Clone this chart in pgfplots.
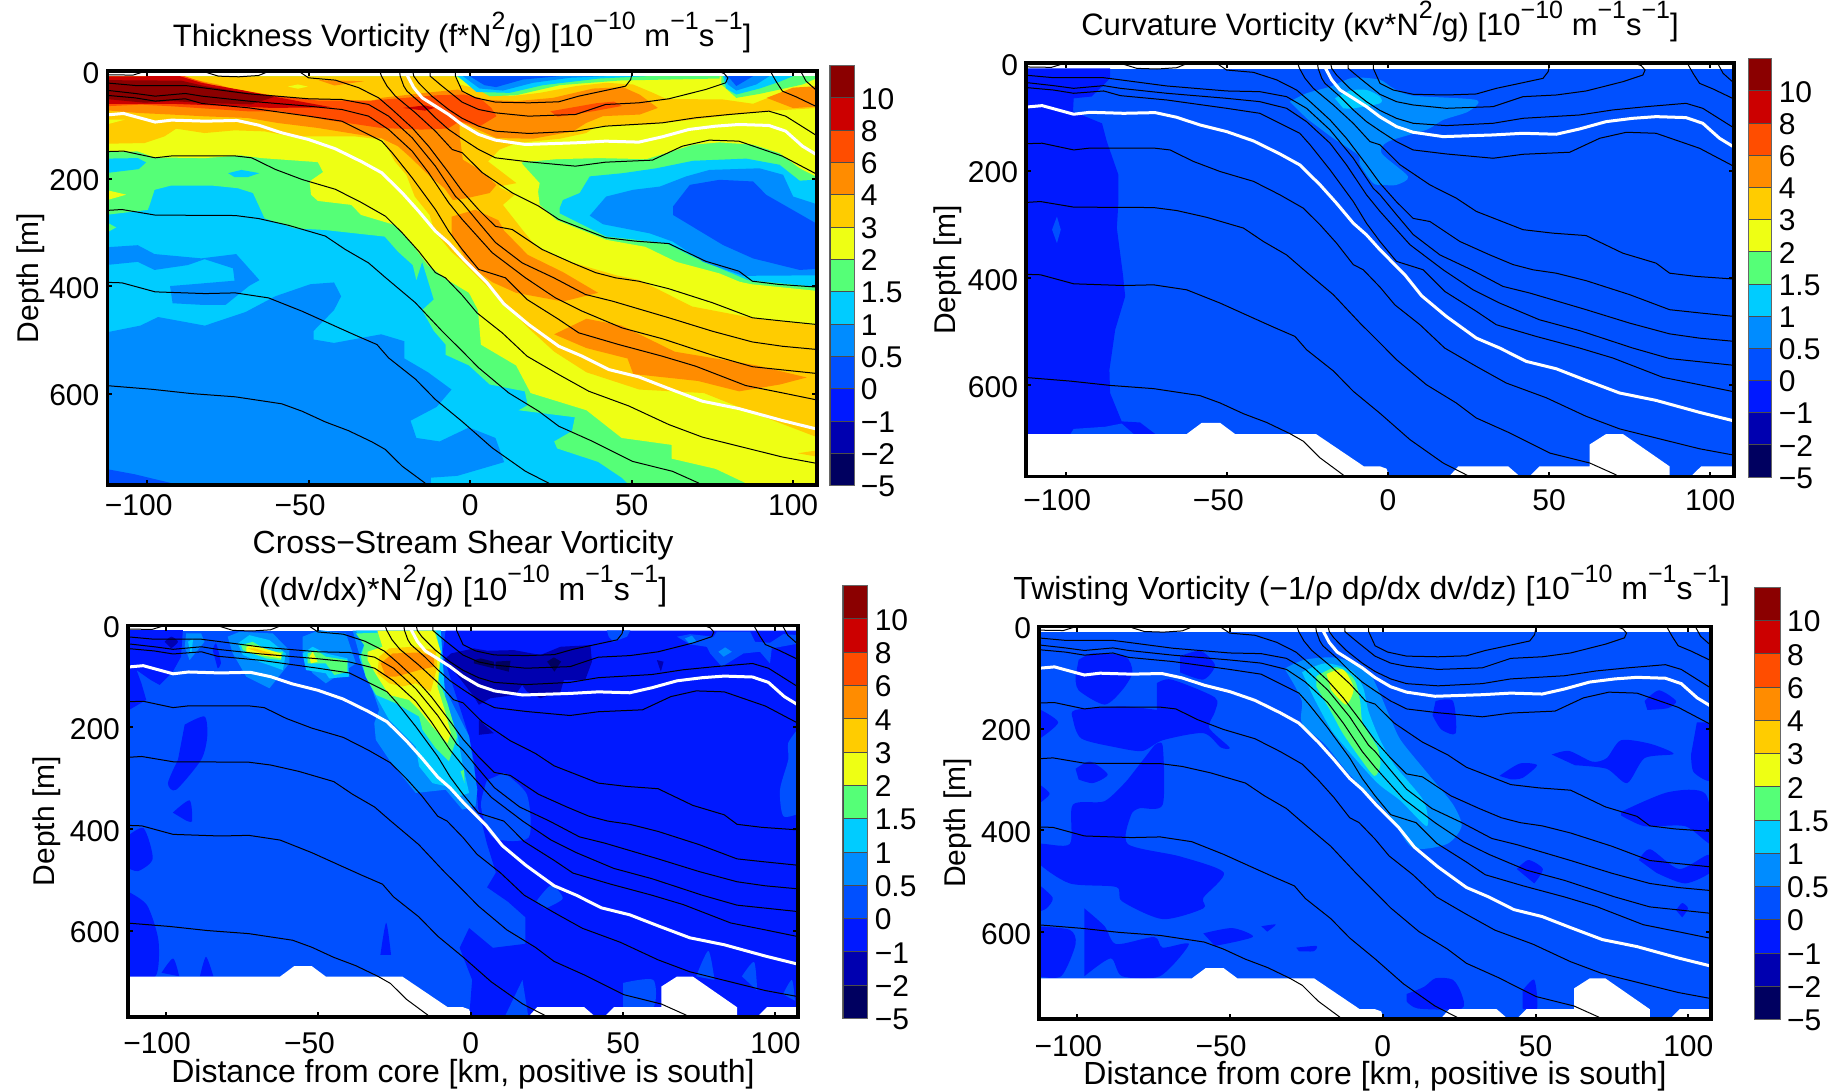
\documentclass[border=0pt]{standalone}
\usepackage{fontspec}
\setmainfont{Liberation Sans}
\usepackage{pgfplots}
\pgfplotsset{compat=1.18}
\definecolor{c10}{HTML}{8B0000}
\definecolor{c8}{HTML}{CC0000}
\definecolor{c6}{HTML}{FF4D00}
\definecolor{c4}{HTML}{FF8C00}
\definecolor{c3}{HTML}{FFCC00}
\definecolor{c2}{HTML}{EEFF14}
\definecolor{c15}{HTML}{55FF77}
\definecolor{c1}{HTML}{00CCFF}
\definecolor{c05}{HTML}{008CFF}
\definecolor{c0}{HTML}{0050FF}
\definecolor{cm1}{HTML}{0019FF}
\definecolor{cmb}{HTML}{0000B0}
\definecolor{cmc}{HTML}{000060}
\newcommand\fs{\fontsize{15}{16}\selectfont}
\newcommand\fst{\fontsize{15.5}{17}\selectfont}
\newcommand\fsl{\fontsize{16}{17}\selectfont}
\newcommand\up[1]{\raisebox{.55em}{\fontsize{12.5}{13}\selectfont #1}}
\newcommand\unit{[10\up{−10} m\up{−1}s\up{−1}]}
\newcommand\pfm[2]{\addplot[draw=none,fill=#1] coordinates {#2} --cycle;}
\newcommand\pf[2]{\addplot[draw=none,fill=#1] coordinates {#2} --cycle;}
\newcommand\pfs[2]{\addplot[draw=none,fill=#1,smooth,tension=.45] coordinates {#2} --cycle;}
\newcommand\kl[1]{\addplot[line width=.5pt,color=black] coordinates {#1};}
\newcommand\wl[1]{\addplot[line width=1.5pt,color=white] coordinates {#1};}
\newcommand\contours{%
\kl{(-111.9,7)(-104.5,7.7)(-100.9,1)}
\kl{(-82.1,2)(-78,9.6)(-71.7,10.8)(-65.6,8.4)(-63,2.1)}
\kl{(93,1)(94.8,20)(96.7,37.5)(100.9,48)(107.5,67)}
\kl{(102.4,1)(104,18.8)(107.5,37.5)}
\kl{(-4.6,1)(-4.6,9.6)(-2.5,37.5)(1.6,49.9)(7.8,57.9)(18.1,59.2)(27.4,57.3)(33.6,46.8)(40.9,37.5)(48.1,28.2)(49.7,15.8)(50.2,1)}
\kl{(-12.4,1)(-12.4,9.6)(-8.7,28.2)(-2.5,58)(2.6,71.6)(7.8,77.8)(18.1,84)(32.6,80.9)(41.9,62.3)(52.2,59.2)(61.5,51.7)(72.9,34.4)(79.1,22)(79.8,12.7)(78.6,4.6)(77,1)}
\kl{(-17.8,1)(-17.5,9.6)(-16,22)(-11.9,46.8)(-6.7,71.6)(-2.5,88)(2.6,102.6)(7.8,111.9)(18.1,116.2)(32.6,111.9)(41.9,102.6)(59.5,96.4)(69.8,87)(80.2,80.9)(92.5,74.7)(97.7,84)(107.5,121)}
\kl{(-21.9,1)(-21.7,9.6)(-20.6,28)(-19.6,37.5)(-14.9,62.3)(-10.8,87)(-6.7,108.8)(-2.5,126)(2.6,146)(7.8,161.5)(18.1,169)(32.6,177)(41.9,169.6)(56.4,165.8)(65.7,139.8)(74,128.6)(83.2,130.5)(96.7,158.4)(107.5,192.5)}
\kl{(-28,1)(-27.5,9.6)(-25.8,28)(-23.2,46.8)(-17,77.8)(-10.8,112)(-5.6,146)(-2.5,152)(3.7,189)(13,226.6)(21.2,251.4)(27.4,276)(41.9,310)(51.2,316.5)(61.5,321)(72.9,353.8)(83.2,372.3)(87.4,391)(95.6,397)(107.5,402)}
\kl{(-53,1)(-50.1,12.7)(-41.8,17)(-34.6,31)(-28.4,49.9)(-24.2,71.6)(-18,105.7)(-12.9,140)(-6.7,189)(-2.5,223.6)(2.6,258)(7.8,289)(13,294.8)(22.3,332)(31.6,357)(38.8,375)(45,384.7)(52.2,391)(61.5,405)(75,431)(87.4,459)(96.7,465)(107.5,471.6)}
\kl{(-113,22)(-103.8,27)(-88.3,27)(-83.1,31)(-68.7,42.4)(-50.1,51.7)(-39.8,53)(-31.5,62.3)(-25.3,84)(-18,124.3)(-10.8,177)(-4.6,233)(-2.5,245)(2.6,282)(7.8,319)(16.1,357)(25.9,384.7)(35.7,415.7)(44,428)(61.5,459)(75,484)(87.4,504)(96.7,512)(107.5,518)}
\kl{(-113,35.6)(-103.8,41.8)(-97.6,46.8)(-88.3,41.8)(-83.1,46.8)(-68.7,56)(-50.1,65.4)(-39.8,71.6)(-31.5,84)(-25.3,108.8)(-18,149)(-12.9,189.4)(-6.7,245)(-2.5,276)(6.8,338)(17.1,384.7)(26.4,422)(34.7,446.8)(47,477.8)(59.5,498)(76,530.5)(87.4,550)(107.5,562.7)}
\kl{(-113,45)(-103.8,50)(-97.6,56)(-88.3,51.7)(-83.1,60.4)(-68.7,68.5)(-50.1,84)(-39.8,93.3)(-27.4,130.5)(-24.2,152)(-18,198.7)(-10.8,257.6)(-6.7,298)(-2.5,332)(2.6,369)(10.9,384.7)(17.6,425)(27.4,462)(33.6,487)(46,508.8)(59.5,530.5)(69.8,549)(85.3,585)(96.7,598.7)(107.5,612)}
\kl{(-113,150)(-107.4,149)(-97.6,161.5)(-92.5,158)(-72.8,158)(-67.7,161.5)(-60.4,183)(-52.1,201.8)(-41.8,220)(-33.6,245)(-26.3,270)(-21.1,301)(-16,335)(-10.8,375)(-7.7,384.7)(-2.5,417)(2.1,450)(9.9,487)(17.6,530.5)(27.4,564.6)(36.7,595.6)(49.1,623)(61.5,657.6)(71.9,681)(85.3,701)(96.7,718)(107.5,730)}
\kl{(-113,259.5)(-107.9,257.6)(-97.6,268)(-72.8,268.8)(-65.6,274.4)(-56.3,287)(-44.9,307)(-38.7,332)(-31.5,357)(-26.3,384)(-17,431)(-8.7,484)(-2.5,521)(2.6,552)(11.9,598.7)(21.2,632.8)(27.4,660.7)(37.8,688.6)(50.2,726)(62.6,744.5)(70.6,766)(72,772)}
\kl{(-113,393)(-107.9,394)(-97.6,410.8)(-82.1,414)(-72.8,412.7)(-62.5,422)(-52.1,446.8)(-41.8,474.7)(-35.6,491.4)(-28.9,508.8)(-25.3,533.6)(-17,573)(-10.8,611)(-2.5,652)(6.8,701)(17.1,744.5)(24.1,766)(26,772)}
\kl{(-113,585)(-98.6,592)(-86.3,600)(-72.8,606)(-58.4,619)(-52.1,632.8)(-44.9,652.7)(-37.7,669)(-30.4,690)(-26.3,704)(-21.1,735)(-14.1,766)(-13,772)}
\wl{(-113,82)(-107.4,79)(-97.6,95)(-92.5,91.4)(-82.1,93.3)(-72.3,92)(-65.6,100.7)(-58.4,115)(-50.1,127.4)(-41.8,144.7)(-33.6,168.9)(-27.4,189.4)(-21.1,226.6)(-16,260.7)(-10.8,297.9)(-6.7,319.6)(-2.5,347.5)(1.6,372.3)(5.2,394)(10.4,433)(18.1,471.6)(27.4,511.9)(34.7,530.5)(42.9,555.3)(52.2,569)(61.5,590.7)(71.9,614.2)(83.2,627.9)(96.7,650.2)(108,667)}
\wl{(-19.8,5)(-17.5,31)(-14.9,49.9)(-10.8,65.3)(-6.7,80.9)(-2.5,100)(2.6,118)(7.8,128.6)(17.1,136.7)(32.6,133.6)(41.9,130.5)(52.2,132.3)(59.5,122.4)(67.7,108.8)(76,102.6)(83.2,99.5)(92.5,101.3)(97.7,111.9)(102.9,139.8)(108,158.4)}
}
\newcommand\mask{%
\pfm{white}{(-113,690.5)(-62.5,690.5)(-57.9,670)(-52.1,670)(-47.5,690.5)(-22.4,690.5)(-7.5,750.8)(-2.5,750.8)(-0.5,755)(0.5,772)(-113,772)}
\pfm{white}{(18.6,772)(21.8,750.8)(37.3,750.8)(41.4,772)}
\pfm{white}{(43.5,772)(47,750.8)(62.6,750.8)(62.6,710)(67.7,690.5)(72.9,690.5)(87.4,750.8)(87.4,772)}
\pfm{white}{(93.6,772)(97.2,750.8)(108,750.8)(108,772)}
}
\newcommand\cbar{%
\foreach \i/\c in {0/cmc,1/cmb,2/cm1,3/c0,4/c05,5/c1,6/c15,7/c2,8/c3,9/c4,10/c6,11/c8,12/c10}{%
\edef\tmp{\noexpand\addplot[draw=black!70,line width=.3pt,fill=\c] coordinates {(0,\i)(1,\i)(1,\the\numexpr\i+1\relax)(0,\the\numexpr\i+1\relax)} --cycle;}\tmp}%
}
\pgfplotsset{
 panel/.style={scale only axis,anchor=south west,xmin=-112.4,xmax=107.4,ymin=0,ymax=770,y dir=reverse,no markers,
  axis on top,xtick={-100,-50,0,50,100},xticklabels={\llap{−}100,\llap{−}50,0,50,100},ytick={0,200,400,600},yticklabels={0,200,400,600},
  tick align=inside,major tick length=2.5pt,tick style={black,line width=1pt},axis line style={black,line width=1.8pt},
  tick label style={font=\fs},label style={font=\fs},title style={font=\fst,yshift=-6pt},
  yticklabel style={xshift=-.5pt,yshift=-1pt},ylabel={Depth [m]}},
 cb/.style={scale only axis,anchor=south west,xmin=0,xmax=1,ymin=0,ymax=13,xtick=\empty,ytick={0,...,12},
  yticklabels={−5,−2,−1,0,0.5,1,1.5,2,3,4,6,8,10},yticklabel pos=right,major tick length=0pt,
  tick label style={font=\fs,yshift=-.5pt},axis line style={black!60,line width=.4pt},axis on top,no markers}
}
\begin{document}
\begin{tikzpicture}
\path[use as bounding box] (0,0) rectangle (920.5pt,545.5pt);
% ---------- panel 1
\begin{axis}[panel,at={(53.7pt,303pt)},width=354.8pt,height=207pt,xticklabel style={yshift=-1.3pt},
 ylabel style={at={(axis description cs:-0.108,0.5)},anchor=center},
 title={Thickness Vorticity (f*N\up{2}/g) \unit},title style={at={(axis description cs:0.5,1.059)},anchor=base}]
\pf{c1}{(-113,10)(108,10)(108,772)(-113,772)}
\pf{c05}{(-113,486.5)(-102.2,473.6)(-96.7,457.6)(-82.2,473.6)(-69.5,448)(-60.4,419)(-49.5,396.5)(-42.2,393.3)(-40,419)(-42.2,444.7)(-48.5,483.3)(-48.5,499.4)(-42.2,505.8)(-27.6,489.7)(-20.4,502.6)(-20.4,534.7)(-13.1,560.4)(-5.8,592.5)(-10.4,624.7)(-18.5,650.4)(-16.7,682.5)(-9.5,689)(-0.4,663)(7.8,682.5)(10.5,727.5)(-4,753)(-12.2,756.4)(-12.2,772)(-113,772)}
\pf{c05}{(-113,328)(-103,324)(-97.8,340.5)(-83.3,348.5)(-72.5,340.5)(-65.3,389)(-68.5,399.7)(-75.8,435)(-83,435)(-92.2,432)(-93,400)(-85.8,396.5)(-73,390)(-73.5,367)(-82.3,350)(-87.5,361)(-97.8,370)(-103,355)(-113,361)}
\pf{c0}{(-113,740)(-104,750)(-89.5,771)(-113,772)}
% green
\pf{c15}{(-113,267.7)(-99.9,258.4)(-99.3,249)(-97.8,221)(-92.6,213)(-80.2,213)(-72,218)(-67.3,227)(-63.7,274)(-54.4,292.5)(-45.1,295.7)(-26.5,308)(-22.4,336)(-17.8,361)(-16.7,389)(-14.9,354.8)(-11.3,425)(-14.9,444.7)(-11.3,483.3)(-7.6,509)(-7.6,528)(-0.4,547.6)(6,583)(16.9,595.8)(17.8,621.5)(15,631)(32.4,644)(31.5,669.7)(26,689)(26.9,702)(39.6,727)(46.9,756.4)(49.6,772)(108,772)(108,10)(-113,10)}
\pf{c1}{(-113,163)(-103,162)(-100.4,170)(-102.7,182.5)(-113,190)}
\pf{c1}{(-75,190)(-70.9,184)(-65.3,190)(-69,197.5)(-73,197.5)}
\pf{c15}{(-113,280)(-109.7,291)(-113,302)}
% yellow
\pf{c2}{(-113,150.8)(-103,149.6)(-97.8,160.8)(-82.3,162)(-70.9,157)(-64.7,162)(-47.2,169.5)(-45.6,188)(-49.8,205.5)(-49.3,230.4)(-47.2,241.6)(-36.9,249)(-33.8,267.7)(-23.4,286.4)(-17.8,323.7)(-13.1,361)(-6.9,389)(-0.4,412.6)(2.4,444.7)(3.3,509)(14.2,547.6)(18.7,599)(36,631)(46.9,682.5)(62.4,695.4)(62.4,721)(76,740)(86.9,771)(108,772)(108,409.4)(86.9,396.5)(83.4,392)(77.2,376.5)(63.8,355)(54.2,327)(42.1,314)(26.6,277)(21.5,249)(21,224)(21.5,208.6)(16.3,174.4)(15.8,170)(26.6,164)(40,162)(54.5,164)(60.7,152.7)(69,137)(77.2,132.8)(87.6,137)(95.8,152.7)(102,180.7)(108,199)(108,10)(-113,10)}
\pf{c2}{(-113,221)(-106.6,230)(-113,241)}
% right blob
\pf{c1}{(27.7,255)(28.7,240)(33.9,227)(37,196)(47.3,190)(57.6,181)(69,167)(85.5,163)(95.8,174.4)(102,204)(108,202)(108,402)(86,389)(76.2,364)(69,345.5)(60.7,320.6)(51.4,314)(42.1,308)(27.7,264.6)}
\pf{c05}{(37,269)(42.1,233.5)(50.4,221)(58.7,215)(66.9,196)(74.1,184)(89.6,181)(96.9,193)(100,233.5)(108,249)(108,380)(84.5,381)(72.1,355)(62.8,317.5)(55.6,302)(41.1,285)}
\pf{c0}{(62.8,252)(68,211.8)(77.2,202.4)(87.6,205.5)(91.7,230.4)(108,286.4)(108,368)(102,370)(87.6,348.6)(78.3,323.7)(62.8,267.7)}
% gold
\pf{c3}{(-113,10)(-113,135.3)(-100.9,134)(-94.7,121.6)(-91.1,107.3)(-82.3,115.4)(-73,110.4)(-63.7,112.3)(-55.5,121.6)(-47.2,121.6)(-35.8,121.6)(-27,127.8)(-23.4,168)(-19.8,193)(-17.2,233.5)(-12.6,267.7)(-11,298.8)(-5.9,336)(-2.3,355)(5.1,399.7)(10.5,432)(17.8,477)(26,522)(36,560.4)(52.4,592.5)(72.4,599)(86.9,634)(108,682.5)(108,473.6)(88.7,460.8)(68.7,438)(52.5,389)(45.2,380)(30.8,355)(20.4,327)(15.8,292.6)(10.1,249)(13.7,230.4)(8.6,215)(14.3,208.6)(5.5,168.2)(9.1,146)(14.3,134)(27.7,126)(35.9,115.4)(39,103)(54.5,99.8)(69,90.5)(81.4,81)(91.7,75)(98.4,72)(108,68.7)(108,40)(100,31.4)(94.8,43.8)(87.6,61)(78.3,53)(60.7,52)(56.6,40.7)(50.4,25)(42.1,22)(32.8,28)(21.5,40.7)(12.2,47)(5,37.6)(-3.3,25)(-5,10)}
\pf{c2}{(-56.5,29)(-53.4,25)(-50.3,29)(-53.4,33)}
\pf{c2}{(-113,90.5)(-107,90.5)(-113,100)}
\pf{c3}{(101.5,711)(108,705)(108,718)}
% orange
\pf{c4}{(-113,10)(-89,12)(-78.2,25)(-70,40.7)(-55.5,50)(-41,53)(-30.7,56)(-27.6,50)(-14,40.7)(-3.8,34.5)(2.9,53)(14.3,56)(25.6,50)(38,32.7)(47.3,30)(52.5,44)(58.1,68.7)(52.5,81)(41.1,84)(35.9,96.7)(31.8,112.3)(19.4,126)(8.1,124.7)(-3.3,93.6)(-3.3,118.5)(-2.3,165)(3,184)(8.1,212)(6,227)(-1.2,236.7)(-5.4,240)(-8,218)(-13,193)(-18.3,162)(-22.4,140)(-27.6,125)(-47.2,106)(-59.6,96.7)(-68.9,87.4)(-82.3,84.3)(-92.6,81)(-103,78)(-113,73)}
\pf{c4}{(-47,17)(-33,19)(-42,27)}
\pf{c4}{(91.8,50)(100,31)(108,28)(108,66)(100,69)}
\pf{c4}{(-5.8,271)(1.5,258)(8.7,277.6)(10.5,297)(17.8,342)(28.7,374)(39.6,412.6)(28.7,428.7)(14.2,412.6)(6.9,393)(-0.4,361)(-5.8,303)}
\pf{c4}{(26,489.7)(36,460.8)(46.9,473.6)(63.3,522)(88.7,547.6)(104.2,570)(96,583)(83.3,595.8)(70.5,576.5)(50.5,563.6)(48.7,534.7)(36,515.4)}
% reds
\pf{c6}{(-113,10)(-88.5,9.6)(-79.2,28)(-61.6,45)(-47.2,55)(-30.7,55)(-10,45)(-1.8,44)(2.9,50)(6.5,68.7)(8.1,84)(2.9,103)(-3.3,93.6)(-6.9,107)(-15.2,109)(-27.6,106)(-45,90.5)(-58.6,75)(-68.9,75)(-92.6,65.6)(-102,62.5)(-113,65.6)}
\pf{c6}{(24.8,75)(39,60)(44.5,57)(47,65)(38,75)(27,85)}
\pf{c8}{(-113,10)(-90,9.6)(-83.3,22)(-70,36.4)(-59.6,49)(-43,67.5)(-61.6,68.7)(-72,65.6)(-92.6,61)(-111.7,61)(-113,61)}
\pf{c8}{(-20.8,68.7)(-14,64)(-11,68.7)(-14,73.7)}
\pf{c10}{(-113,17)(-89.5,18)(-82.3,28)(-72,38)(-60.6,48)(-67.8,62)(-80.2,60)(-92.6,56)(-100.9,59)(-113,52)}
% top strip
\pf{c15}{(-4.3,9.6)(-1.2,22)(6,47)(14.3,45)(27.7,26.4)(46.3,17.7)(77.2,14)(77.2,9.6)}
\pf{c1}{(-3.8,9.6)(1.9,39)(12.2,40.7)(22.5,26.4)(40,14)(54.5,9.6)}
\pf{c05}{(-2.3,9.6)(2.9,32.6)(10.1,36.4)(19.4,22)(30.8,12.7)(42.1,9.6)}
\pf{c0}{(-0.2,9.6)(4.4,26.4)(8,30)(16.3,15.9)(27.7,9.6)}
\pf{c15}{(77.8,9.6)(77.8,25)(82.4,50)(89.6,42.6)(95.8,34.5)(103,25)(108,11.5)(108,9.6)}
\pf{c1}{(78.3,9.6)(79.3,32.6)(82.4,43.8)(89.6,32.6)(95.8,20)(100,9.6)}
\pf{c05}{(78.8,9.6)(79.8,25)(82.4,36.4)(88.6,25)(92.7,9.6)}
\pf{c0}{(79.8,9.6)(82.4,28)(87.6,9.6)}
\contours
\end{axis}
\begin{axis}[cb,at={(414.9pt,302.75pt)},width=12.05pt,height=210.05pt]\cbar\end{axis}
% ---------- panel 2
\begin{axis}[panel,at={(513pt,307.15pt)},width=354pt,height=206.75pt,xticklabel style={yshift=-3.1pt},
 ylabel style={at={(axis description cs:-0.110,0.5)},anchor=center},
 title={Curvature Vorticity (κv*N\up{2}/g) \unit},title style={at={(axis description cs:0.5,1.066)},anchor=base}]
\pf{c0}{(-113,10)(108,10)(108,772)(-113,772)}
\pf{cm1}{(-113,9.6)(-86.3,9.6)(-86.3,28)(-92,62)(-97.6,65.4)(-97.8,90)(-88.8,112)(-87.3,146)(-83.7,208)(-83.7,257.6)(-84.2,307)(-82.3,394)(-81.6,434)(-84.7,496)(-86.5,571)(-86.3,614)(-82.7,667)(-77,669)(-72.3,690.5)(-113,690.5)}
\pf{c0}{(-98.6,690.5)(-97.6,681)(-87.8,677)(-82.7,671)(-79,690.5)}
\pf{c0}{(-102.8,285.6)(-104.3,310)(-102.8,335)(-101.6,310)}
\pfs{c05}{(-30.5,71.6)(-25.3,56)(-18,43.7)(-10.8,27)(-2.5,31)(1.6,46.8)(7.8,60.4)(27.4,68.5)(24.9,90)(17.1,105.7)(11.9,124)(0,146)(-2,167.7)(6.2,211)(2.6,226.6)(-1.5,226.6)(-4.6,223.5)(-8.7,189)(-9.3,170.8)(-17,139.8)(-25.3,102.6)}
\pfs{c1}{(-16.5,65.4)(-11.8,51)(-6.7,49.8)(-2.5,62.3)(-2.5,74.7)(-10.8,84)(-13.9,84)}
\mask
\contours
\end{axis}
\begin{axis}[cb,at={(874.1pt,307pt)},width=11.75pt,height=209.25pt]\cbar\end{axis}
% ---------- panel 3
\begin{axis}[panel,at={(64pt,37pt)},width=335pt,height=195.75pt,xticklabel style={yshift=-4.3pt},
 ylabel style={at={(axis description cs:-0.122,0.5)},anchor=center},
 xlabel={\fsl Distance from core [km, positive is south]},xlabel style={at={(axis description cs:0.5,-0.168)},anchor=base},
 title={\fsl ((dv/dx)*N\up{2}/g) \unit},title style={at={(axis description cs:0.5,1.065)},anchor=base},
 extra description/.code={\node[font=\fsl,anchor=base] at (0.5,1.185) {Cross−Stream Shear Vorticity};}]
\pf{c0}{(-113,10)(108,10)(108,772)(-113,772)}
% right darker region
\pf{cm1}{(-8.2,10)(-9.2,55)(-0.5,218)(1.2,270)(2.5,360)(5.4,430)(8.3,486)(5.4,515)(12.2,543)(18,574)(18,626)(7.3,634)(-0.5,595)(-3.6,634)(0.5,697)(-0.5,772)(108,772)(108,10)}
\pfs{c0}{(11,290)(18.5,333)(19,417)(7.3,417)(3.4,355)(5.4,304)}
\pfs{c0}{(21.5,543)(26.4,511)(30.2,537)(24.4,557)}
\pf{c0}{(11,772)(17,697)(19,772)}
\pfs{c0}{(50,703)(59.9,697)(59.9,751)(50,751)}
\pfs{c0}{(74,690)(78,640)(80,697)}
\pfs{c0}{(89,690)(93,662)(94,718)}
\pfs{c0}{(102.5,725)(105.4,697)(106.4,738)}
\pfs{c0}{(108,198.7)(104.2,231)(104.2,264)(101.5,323)(102.6,375)(108,369)}
\pf{c0}{(67.7,22)(72,17)(79.7,22)(80.8,12)(91.7,12)(93.3,32)(98.2,34)(102.6,17)(108,19)(108,35)(98.8,45)(98.2,74.5)(94.9,51.6)(89.5,55)(82.4,81)(78.6,55)(77.5,42)(72,37)}
\pf{c05}{(70.3,25.5)(72.6,20)(74.2,32)(72,37)}
\pf{c05}{(81.3,51.6)(83.5,43)(85.7,51.6)(83,61.4)}
\pf{c0}{(44.7,9.6)(52.4,9.6)(51.3,22)(46.9,32)(45.3,22)}
% left patches
\pf{cm1}{(-113,9)(-94.4,9)(-95,61.4)(-97.7,90.8)(-102,117)(-105,107)(-109.6,87.6)(-108,113.7)(-106.4,146.4)(-113,169.3)}
\pfs{cm1}{(-84.6,48.4)(-83.5,35)(-81.9,74.5)(-83,84.3)}
\pfs{cm1}{(-93.8,195)(-87.3,179)(-86.4,218)(-88.4,264)(-96.6,323)(-99.3,310)(-96,264)}
\pfs{cm1}{(-97.7,368)(-92.2,344)(-91.4,385)(-93.8,382)}
\pfs{cm1}{(-113,416.4)(-107.3,398.7)(-104.3,458.5)(-109.1,483)(-113,475)}
\pfs{cm1}{(-113,521.6)(-106.2,549.7)(-102.4,619.9)(-103.4,690)(-113,690)}
\pfs{cm1}{(-101.4,683)(-97.6,655)(-95.6,690)}
\pfs{cm1}{(-88.8,690)(-86.8,651.6)(-84.4,690)}
\pfs{cm1}{(-29.6,648)(-27.7,584.6)(-26.1,648)}
\pfs{cmb}{(-100.4,32)(-98.2,22)(-96,32)(-98.2,45)}
% blobs
\pf{c05}{(-93.3,15.7)(-88.4,15.7)(-87.3,32)(-92.2,68)(-93.8,41.8)}
\pf{c1}{(-92.7,32)(-91,25.5)(-91.7,58)}
\pf{c05}{(-79.7,22)(-75.8,12.4)(-64.9,15.7)(-59.5,48.4)(-59.5,74.5)(-66,123.5)(-73.6,100.6)(-78,55)}
\pf{c1}{(-76.4,35.3)(-72.6,19)(-66,28.8)(-60.6,55)(-61.6,87.6)(-69.3,71.2)(-74.7,58)}
\pf{c15}{(-75.3,38.6)(-71.5,32)(-66,51.6)(-61.6,51.6)(-62.2,68)(-67.1,64.7)(-74.7,48.4)}
\pf{c2}{(-73.6,41.8)(-71.5,38.6)(-62.2,55)(-62.2,64.7)(-69.3,58)(-73.6,51.6)}
\pf{c3}{(-73.1,45)(-70.9,45)(-63.3,58)(-66,60)}
\pf{c05}{(-55.1,22)(-49.6,9)(-40.9,15.7)(-37.6,74.5)(-47.5,113.7)(-51.8,94)(-55.1,61.4)}
\pf{c1}{(-55.1,55)(-51.8,41.8)(-47.5,55)(-40.4,64.7)(-39.8,100.6)(-46.4,104)(-47.5,94)(-54,87.6)}
\pf{c15}{(-53.5,55)(-50.7,48.4)(-47.5,61.4)(-40.4,68)(-40.4,91)(-44.7,97.4)(-47.5,74.5)(-53.5,74.5)}
\pf{c2}{(-52.9,61.4)(-51.8,51.6)(-50.2,71.2)(-52.4,74.5)}
% plume
\pf{c05}{(-38.7,10)(-36.6,55)(-34.4,87.6)(-30,166)(-31.6,192)(-31.1,224.8)(-26.7,264)(-18,329.4)(-8.2,323)(-2.7,362)(1.6,355.6)(2.2,323)(-0.5,218)(-3.8,179)(-8.2,126.8)(-9.8,94)(-9.3,61.4)(-9.8,10)}
\pf{c1}{(-37.6,10)(-34.9,38.6)(-36.6,61.4)(-34.4,100.6)(-31,140)(-26.7,185.6)(-18,238)(-16.9,277)(-12.5,310)(-8.2,316)(-3.8,336)(-0.5,329.4)(-2.7,270.6)(-4.4,211.8)(-8.2,153)(-9.3,55)(-9.8,10)}
\pf{c15}{(-37.6,15.7)(-11.5,10)(-9.8,55)(-10.4,107)(-7.6,153)(-4.4,218)(-7.1,267)(-11.5,241)(-15.8,205)(-16.9,179)(-24.5,153)(-31,136.6)(-34.4,100.6)(-36,61.4)(-34.9,38.6)}
\pf{c2}{(-30.6,10)(-12,10)(-9.8,51.6)(-10.9,120)(-8.2,172.5)(-6.5,211.8)(-7.6,231.4)(-12.5,198.7)(-16.9,166)(-20.2,146.4)(-26.7,136.6)(-30.6,100.6)(-33.8,68)(-33.8,51.6)(-28.9,41.8)}
\pf{c3}{(-30,61.4)(-26.7,45)(-19,41.8)(-11.5,48.4)(-10.9,81)(-13.1,130)(-18,113.7)(-22.4,120)(-26.7,113.7)(-30.6,94)}
\pf{c4}{(-29.5,74.5)(-25.6,55)(-16.9,53)(-12,61.4)(-12,81)(-16.9,87.6)(-24.5,100.6)(-27.8,100.6)}
\pf{c15}{(-3.3,287)(-2.2,283.7)(-2,309.8)}
% dark zone
\pf{cmb}{(-8.7,68)(-6.5,55)(1.1,45)(5.5,49.7)(14.2,48.4)(22.9,58)(29.5,41.8)(39.3,38.6)(39.8,71)(37.6,107)(30.6,107)(29.5,130)(22.9,143)(18.5,130)(16.9,117)(14.7,136.6)(6.5,143)(2.7,156)(1.1,140)(-4.4,97.4)}
\pf{cmb}{(2.7,185.6)(7.6,211.8)(2.7,215)}
\pf{cmb}{(61.1,68)(63.3,71.2)(62.4,90.8)}
\pf{cmc}{(1.1,68)(3.3,64.7)(7.6,71.2)(7.6,84.3)(1.1,74.5)}
\pf{cmc}{(8.2,71)(13.1,69.3)(12.5,90.8)(8.2,84.3)}
\pf{cmc}{(25.1,71)(27.3,62.7)(29.7,71)(27.5,90.8)}
\mask
\contours
\end{axis}
\begin{axis}[cb,at={(421.4pt,36.3pt)},width=12.45pt,height=216.45pt]\cbar\end{axis}
% ---------- panel 4
\begin{axis}[panel,at={(519.6pt,36pt)},width=335.85pt,height=196.2pt,xticklabel style={yshift=-4.9pt},
 ylabel style={at={(axis description cs:-0.121,0.5)},anchor=center},
 xlabel={\fsl Distance from core [km, positive is south]},xlabel style={at={(axis description cs:0.5,-0.167)},anchor=base},
 title={\fsl Twisting Vorticity (−1/ρ dρ/dx dv/dz) \unit},title style={at={(axis description cs:0.495,1.068)},anchor=base}]
\pf{c0}{(-113,10)(108,10)(108,772)(-113,772)}
\pfs{cm1}{(-99.5,65.3)(-94.8,52.6)(-84.3,58.2)(-81.9,89.8)(-85.3,125)(-91,153)(-99.5,125)(-100.5,96.8)}
\pfs{cm1}{(-66.3,58)(-59.6,47.7)(-54.9,75.8)(-58.7,103.9)(-66.3,89.8)}
\pfs{cm1}{(-73.9,110.9)(-69.1,103.9)(-54.9,139)(-54.9,167)(-56.8,198.6)(-50.1,237.2)(-53,237)(-58.7,209)(-72,223)(-78.6,244)(-87.2,237)(-98.6,219.6)(-101.4,181)(-100.5,163.5)(-85.3,156.5)(-73.9,163.5)}
\pfs{cm1}{(-74.8,233.7)(-72,233.7)(-72,349.5)(-79.6,356.5)(-82.4,370.5)(-83.4,426.7)(-66.3,451)(-52,482.8)(-58.7,532)(-58.7,553)(-72,574)(-85.3,539)(-87.2,511)(-102.4,503.9)(-113,461.8)(-113,426.7)(-102.4,426.7)(-101.4,349.5)(-91,342.5)(-83.4,300)}
\pfs{cm1}{(-113,160)(-106.2,188)(-113,223)}
\pfs{cm1}{(-113,307)(-109,328)(-113,349.5)}
\pfs{cm1}{(-113,503.9)(-108,532)(-110,553)(-113,560)}
\pfs{cm1}{(-100.5,279)(-95.7,265)(-90,290)(-94.8,307)(-99.5,300)}
\pfs{cm1}{(-97.6,553)(-91,588)(-87.2,623)(-74.8,609)(-72,630)(-63.4,623)(-72.9,686)(-85.3,686)(-89,651)(-97.6,686)}
\pfs{cm1}{(-113,588)(-102.4,595)(-100.5,623)(-105.2,686)(-113,686)}
\pfs{cm1}{(-58.7,602)(-49.2,591.6)(-42.5,609)(-54.9,626.7)}
\pfs{cm1}{(-28.3,630)(-21.7,626.7)(-22.6,637)(-27.4,637)}
\pfs{cm1}{(-39.7,588)(-35,584.6)(-37.8,598.6)}
\pfs{cm1}{(17.3,146)(23,146)(23.9,209)(19.2,202)(16.3,174)}
\pfs{cm1}{(38.2,293)(44.8,268.8)(50.5,272)(45.8,296.8)(42,300)}
\pfs{cm1}{(55.3,251)(61,244)(68.6,265)(73.3,258)(78,223)(87.6,230)(95.2,249.8)(85.7,258)(80,307)(73.3,279)(62.9,272)}
\pfs{cm1}{(85.7,146)(90.4,125)(96,146)(93.3,160)(86.6,163.5)}
\pfs{cm1}{(78,363.5)(93.3,325)(105.6,328)(108,426.7)(99,391.6)(85.7,391.6)(78,370.5)}
\pfs{cm1}{(102.8,188)(108,198.6)(108,300)(101.8,286)(100.9,251)}
\pfs{cm1}{(83.8,458)(87.6,437)(97,475.8)(106.6,447.7)(108,479)(99,503.9)(89.5,482.8)}
\pfs{cm1}{(43.9,475.8)(47.7,458)(52.4,475.8)(49.6,503.9)}
\pfs{cm1}{(96,556.5)(98,542.5)(99.9,553)(98,570.5)}
\pfs{cm1}{(7.8,721)(13.5,707)(17.3,690)(23,693)(25.8,721)(25.8,749.5)(11.6,749.5)(7.8,735)}
\pfs{cm1}{(45.8,714)(49.6,693)(50.5,749.5)(45.8,749.5)}
\pfs{c05}{(-32.1,82.5)(-25.5,65)(-15,61.4)(-4.6,89.5)(2.1,173.7)(5.9,222.8)(15.4,293)(23,349)(25.8,391.6)(21,426.7)(9.7,433.7)(2.1,370)(-11.2,287.7)(-18.8,231.6)(-26.4,189.5)(-26.4,147.4)(-29.2,111.6)}
\pfs{c1}{(-26.4,89.5)(-18.8,72)(-10.3,86)(-6.5,118)(-4.6,167)(-0.8,223)(3.9,272)(13.4,342)(14.4,391.6)(5.9,342)(-1.7,307)(-11.2,244)(-16.9,202)(-22.6,139)}
\pfs{c15}{(-21.7,97.4)(-15,79.6)(-9.3,104)(-7.4,146)(-6.5,189.5)(-1.7,237)(-0.8,272)(-2.7,293)(-7.4,258)(-13.1,209)(-16.9,167)(-21.7,118)}
\pfs{c2}{(-18.4,93)(-13,84.2)(-9.5,121)(-12,153)(-16.8,125)}
\mask
\contours
\end{axis}
\begin{axis}[cb,at={(877.2pt,35.8pt)},width=12.8pt,height=216.1pt]\cbar\end{axis}
\end{tikzpicture}
\end{document}
